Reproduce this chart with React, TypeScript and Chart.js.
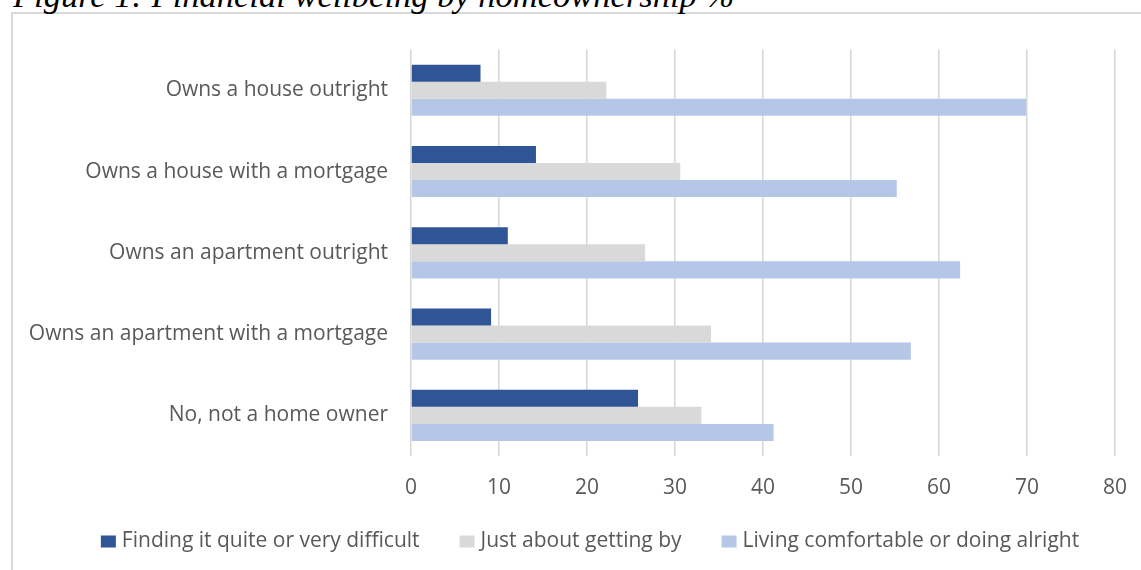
import React, { useEffect, useRef } from "react";
import { Chart, registerables } from "chart.js";

Chart.register(...registerables);

const categories = [
  "Owns a house outright",
  "Owns a house with a mortgage",
  "Owns an apartment outright",
  "Owns an apartment with a mortgage",
  "No, not a home owner",
];
const seriesNames = [
  "Finding it quite or very difficult",
  "Just about getting by",
  "Living comfortable or doing alright",
];
const difficult = [7.9, 14.2, 11.0, 9.1, 25.8];
const gettingBy = [22.2, 30.6, 26.6, 34.1, 33.0];
const comfortable = [69.9, 55.2, 62.4, 56.8, 41.2];
const seriesColors = ["#2F5597", "#D9D9D9", "#B4C7E7"];
const xMin = 0;
const xMax = 80;
const xStep = 10;

const titleText = "Figure 1: Financial wellbeing by homeownership %";

const FONT = "'Open Sans', 'Noto Sans', sans-serif";
const FONT_SIZE = 21;
const TEXT_COLOR = "#595959";

const CANVAS_W = 1154;
const CANVAS_H = 556;

const legendPlugin = {
  id: "customLegend",
  afterDraw(chart: any) {
    const ctx = chart.ctx as CanvasRenderingContext2D;
    ctx.save();
    ctx.font = `${FONT_SIZE}px ${FONT}`;
    ctx.textBaseline = "middle";
    ctx.textAlign = "left";
    const boxW = 15;
    const boxH = 12;
    const gapText = 6;
    const gapItem = 40;
    const items = chart.data.datasets.map((ds: any) => ({
      text: String(ds.label),
      color: String(ds.backgroundColor),
      w: ctx.measureText(String(ds.label)).width,
    }));
    const total =
      items.reduce((s: number, it: any) => s + boxW + gapText + it.w, 0) +
      gapItem * (items.length - 1);
    let x = chart.width / 2 - total / 2;
    const y = 527.5;
    items.forEach((it: any) => {
      ctx.fillStyle = it.color;
      ctx.fillRect(x, y - boxH / 2, boxW, boxH);
      ctx.fillStyle = TEXT_COLOR;
      ctx.fillText(it.text, x + boxW + gapText, y);
      x += boxW + gapText + it.w + gapItem;
    });
    ctx.restore();
  },
};

export default function App() {
  const ref = useRef<HTMLCanvasElement>(null);

  useEffect(() => {
    if (!ref.current) return;
    const chart = new Chart(ref.current, {
      type: "bar",
      data: {
        labels: categories,
        datasets: [
          { label: seriesNames[0], data: difficult, backgroundColor: seriesColors[0], borderWidth: 0 },
          { label: seriesNames[1], data: gettingBy, backgroundColor: seriesColors[1], borderWidth: 0 },
          { label: seriesNames[2], data: comfortable, backgroundColor: seriesColors[2], borderWidth: 0 },
        ],
      },
      options: {
        indexAxis: "y",
        responsive: false,
        animation: false,
        datasets: { bar: { categoryPercentage: 0.63, barPercentage: 1 } },
        layout: { padding: { top: 29, right: 52, left: 0, bottom: 70 } },
        scales: {
          x: {
            min: xMin,
            max: xMax,
            ticks: {
              stepSize: xStep,
              padding: 19,
              color: TEXT_COLOR,
              font: { family: FONT, size: FONT_SIZE },
            },
            grid: { color: "#d6d6d6", lineWidth: 1.5, drawTicks: false },
            border: { display: false },
            afterFit: (s: any) => {
              s.height = 44;
            },
          },
          y: {
            grid: { display: false, drawTicks: false },
            border: { display: false },
            ticks: {
              padding: 23,
              color: TEXT_COLOR,
              font: { family: FONT, size: FONT_SIZE },
            },
            afterFit: (s: any) => {
              s.width = 398;
            },
          },
        },
        plugins: {
          legend: { display: false },
          tooltip: { enabled: false },
        },
      },
      plugins: [legendPlugin],
    });
    return () => chart.destroy();
  }, []);

  return (
    <div
      style={{
        position: "fixed",
        left: 0,
        top: 0,
        width: 1141,
        height: 570,
        overflow: "hidden",
        background: "#fff",
      }}
    >
      <div
        style={{
          position: "absolute",
          left: 11,
          top: 12,
          width: 1300,
          height: 700,
          border: "2px solid #d9d9d9",
          boxSizing: "border-box",
        }}
      />
      <div
        style={{
          position: "absolute",
          left: 13,
          top: -22.5,
          fontFamily: "'Liberation Serif', 'Times New Roman', serif",
          fontStyle: "italic",
          fontSize: 34.5,
          lineHeight: "34px",
          whiteSpace: "nowrap",
          color: "#000",
        }}
      >
        {titleText}
      </div>
      <canvas
        ref={ref}
        width={CANVAS_W}
        height={CANVAS_H}
        style={{ position: "absolute", left: 13, top: 14, display: "block" }}
      />
    </div>
  );
}
